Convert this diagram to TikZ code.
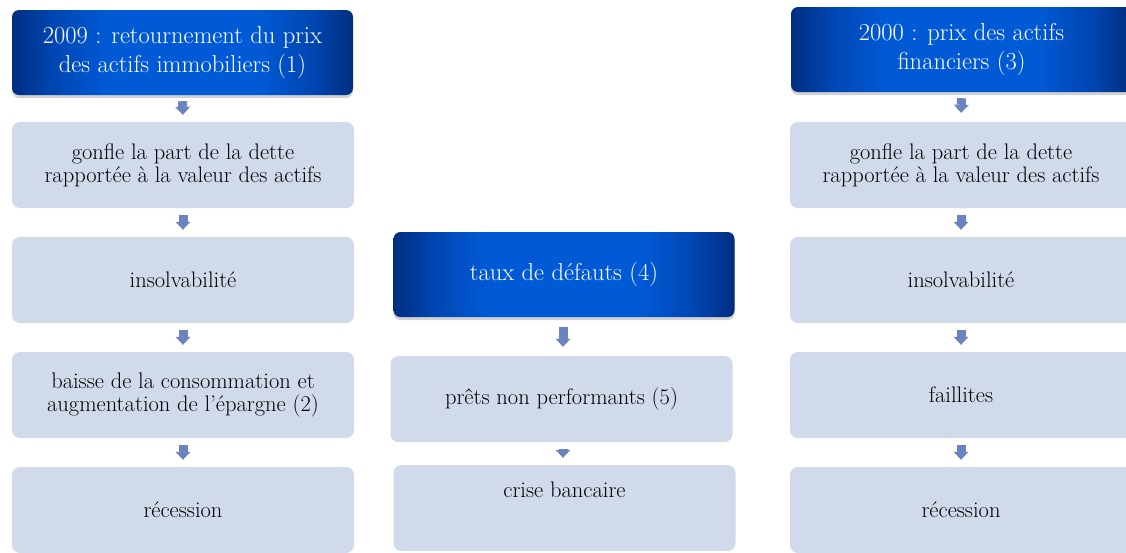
\documentclass[tikz,border=0pt]{standalone}
\usepackage{fontspec}
\usetikzlibrary{shadows,calc,arrows.meta}
\definecolor{hdark}{RGB}{0,46,128}
\definecolor{hmid}{RGB}{0,70,178}
\definecolor{hbright}{RGB}{0,90,214}
\definecolor{lbox}{RGB}{209,218,235}
\definecolor{arr}{RGB}{107,132,191}
\pgfdeclarehorizontalshading{hdrshade}{100bp}{color(0bp)=(hdark); color(25bp)=(hdark); color(31bp)=(hmid); color(39bp)=(hbright); color(61bp)=(hbright); color(69bp)=(hmid); color(75bp)=(hdark); color(100bp)=(hdark)}
\tikzset{
  hdr/.style={rounded corners=7pt, minimum width=341pt, minimum height=85pt,
    shading=hdrshade, draw=none,
    text=white, align=center, font=\fontsize{24.5}{29}\selectfont, inner sep=0pt,
    drop shadow={shadow xshift=0pt, shadow yshift=-3pt, opacity=0.18, fill=black}},
  lbx/.style={rounded corners=8pt, fill=lbox, minimum width=342pt, minimum height=86pt,
    align=center, font=\fontsize{22.5}{23}\selectfont, inner sep=0pt},
  barrow/.style={draw=arr, line width=9pt, -{Triangle[width=15pt,length=8pt,line width=0pt]}}
}
\begin{document}
\begin{tikzpicture}[x=1pt,y=-1pt]
\useasboundingbox (0,0) rectangle (1126,552);
\fill[white] (0,0) rectangle (1126,552);
\clip (0,0) rectangle (1126,552);
% left column
\node[hdr] (h1) at (182.5,52.5) {2009 : retournement du prix\\des actifs immobiliers (1)};
\node[lbx] (l1) at (183,165) {gonfle la part de la dette\\rapportée à la valeur des actifs};
\node[lbx] (l2) at (183,280) {insolvabilité};
\node[lbx] (l3) at (183,395) {baisse de la consommation et\\augmentation de l'épargne (2)};
\node[lbx] (l4) at (183,510) {récession};
% middle column
\node[hdr] (h2) at (564,274.5) {taux de défauts (4)};
\node[lbx] (m1) at (561.5,399) {prêts non performants (5)};
\node[lbx] (m2) at (564.5,508) {crise bancaire\\[7pt]\strut};
% right column
\node[hdr] (h3) at (961.5,49.5) {2000 : prix des actifs\\financiers (3)};
\node[lbx] (r1) at (961,165) {gonfle la part de la dette\\rapportée à la valeur des actifs};
\node[lbx] (r2) at (961,280) {insolvabilité};
\node[lbx] (r3) at (961,395) {faillites};
\node[lbx] (r4) at (961,510) {récession};
% arrows
\draw[barrow] ($(h1.south)+(0,6)$) -- ($(l1.north)+(0,-7)$);
\draw[barrow] ($(l1.south)+(0,7)$) -- ($(l2.north)+(0,-7)$);
\draw[barrow] ($(l2.south)+(0,7)$) -- ($(l3.north)+(0,-7)$);
\draw[barrow] ($(l3.south)+(0,7)$) -- ($(l4.north)+(0,-7)$);
\draw[barrow] ($(h2.south)+(-1,10)$) -- ($(h2.south |- m1.north)+(-1,-9)$);
\draw[barrow] ($(h2.south |- m1.south)+(-1,7)$) -- ($(h2.south |- m2.north)+(-1,-7)$);
\draw[barrow] ($(h3.south)+(0,6)$) -- ($(r1.north)+(0,-9)$);
\draw[barrow] ($(r1.south)+(0,7)$) -- ($(r2.north)+(0,-7)$);
\draw[barrow] ($(r2.south)+(0,7)$) -- ($(r3.north)+(0,-7)$);
\draw[barrow] ($(r3.south)+(0,7)$) -- ($(r4.north)+(0,-7)$);
\end{tikzpicture}
\end{document}
